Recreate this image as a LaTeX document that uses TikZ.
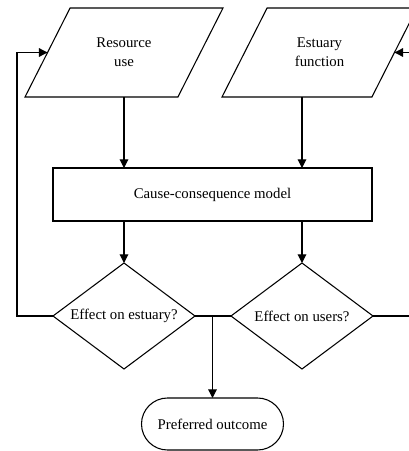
\documentclass[tikz,border=0pt]{standalone}
\usepackage{fontspec}
\setmainfont{Liberation Serif}
\usetikzlibrary{shapes.geometric,arrows.meta}

\begin{document}
\begin{tikzpicture}[x=0.75pt,y=-0.75pt,
    line width=0.8pt, >={Triangle[length=6.5pt,width=6.5pt]},
    font=\fontsize{11.1}{14}\selectfont,
    io/.style={shape=trapezium, trapezium left angle=63, trapezium right angle=117,
      trapezium stretches body, draw, align=center, minimum height=66.75pt,
      inner xsep=0pt, inner ysep=22.5pt, outer sep=0pt},
    proc/.style={shape=rectangle, draw, minimum width=239.25pt, minimum height=39.75pt, outer sep=0pt},
    test/.style={shape=diamond, aspect=1.34, draw, minimum width=106.5pt, minimum height=79.5pt,
      inner sep=0pt, outer sep=0pt},
    term/.style={shape=rectangle, rounded corners=19.5pt, draw, minimum width=106.5pt,
      minimum height=39pt, outer sep=0pt}]
    \useasboundingbox (0,0) rectangle (409,451);
    \clip (0,0) rectangle (409,451);

    \node[io, minimum width=148.5pt] (use) at (124,52.5) {Resource\\use};
    \node[io, minimum width=146.25pt] (func) at (319.5,52.5) {Estuary\\function};
    \node[proc] (model) at (212.5,194.5) {Cause-consequence model};
    \node[test] (est) at (124,316) {Effect on estuary?};
    \node[test] (usr) at (302,316) {Effect on users?};
    \node[term] (pref) at (212.5,424) {Preferred outcome};

    \draw[->] (use |- use.bottom side) -- (use |- model.north);
    \draw[->] (usr |- func.bottom side) -- (usr |- model.north);
    \draw[->] (est |- model.south) -- (est.north);
    \draw[->] (usr |- model.south) -- (usr.north);
    \draw (est.east) -- (usr.west);
    \draw[->] (pref |- est.east) -- (pref.north);
    \draw[->] (est.west) -- ++(-36,0) |- (use.left side);
    \draw[->] (usr.east) -- ++(45,0) |- (func.right side);
  \end{tikzpicture}
\end{document}
